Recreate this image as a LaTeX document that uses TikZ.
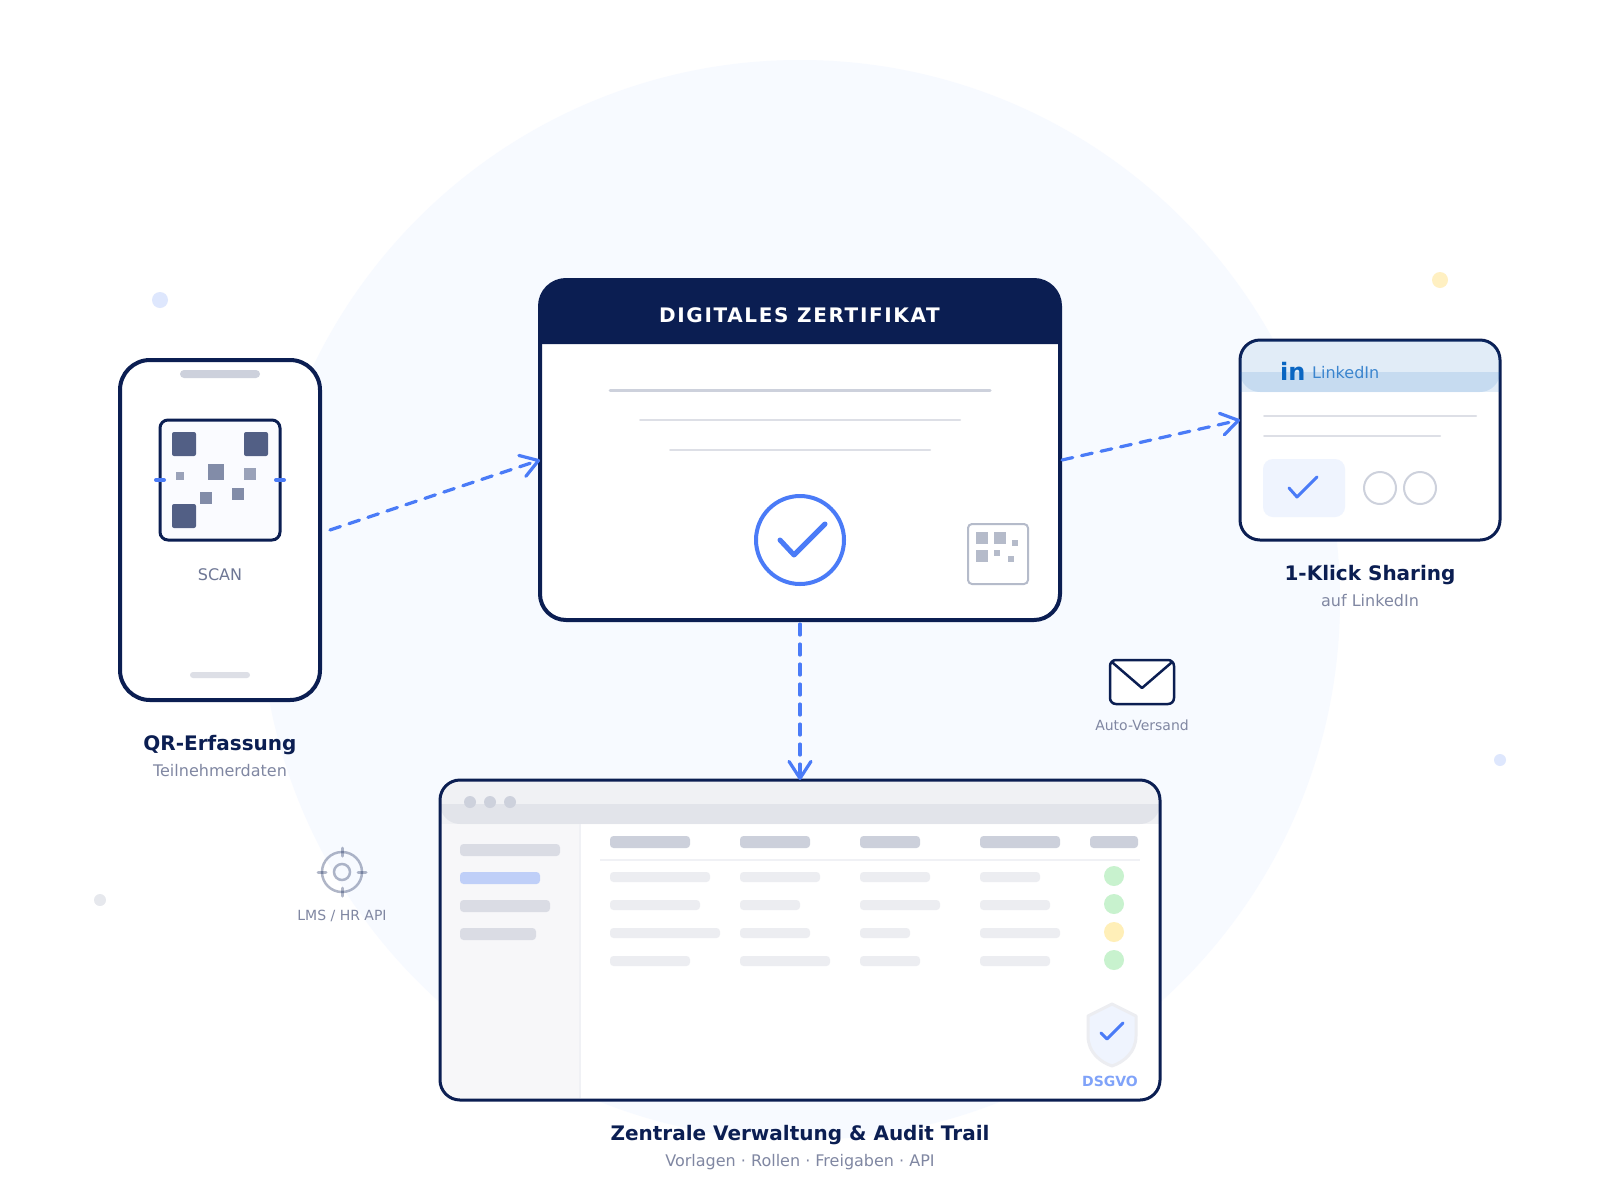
\documentclass[tikz,border=0pt]{standalone}
\usepackage{fontspec}
\setmainfont{DejaVu Sans}
\newfontfamily\spacedfont[LetterSpace=8.2]{DejaVu Sans}
\usetikzlibrary{arrows.meta,calc}
\definecolor{navy}{HTML}{0B1E52}
\definecolor{accent}{HTML}{4A7BF7}
\definecolor{liblue}{HTML}{0A66C2}
\definecolor{bgcircle}{HTML}{F7FAFF}
\definecolor{ruleA}{HTML}{CDD1DC}
\definecolor{ruleB}{HTML}{DDDFE6}
\definecolor{headbar}{HTML}{CCD0DB}
\definecolor{rowbar}{HTML}{ECEDF1}
\definecolor{sidebar}{HTML}{DADCE4}
\definecolor{sideline}{HTML}{F0F1F5}
\definecolor{qrpaper}{HTML}{FAFBFF}
\definecolor{mutetext}{HTML}{8087A2}
\definecolor{scantext}{HTML}{6E7795}
\definecolor{softblue}{HTML}{EFF4FE}
\definecolor{sunny}{HTML}{FFF0C2}
\definecolor{okdot}{HTML}{C8F2CE}
\definecolor{warndot}{HTML}{FFEFB8}
\newcommand{\fs}[1]{\fontsize{#1}{#1}\selectfont}
\tikzset{
  x=1pt,y=-1pt,
  box/.style={draw=navy,fill=white,rectangle,inner sep=0pt,outer sep=0pt},
  flow/.style={draw=accent,line width=3.2pt,line cap=round,dash pattern=on 11pt off 9pt,
    -{Straight Barb[length=17pt,width=22pt,line width=3.2pt,round]}},
  txt/.style={anchor=base,inner sep=0pt,outer sep=0pt},
  title/.style={txt,text=navy,font=\fs{20}\bfseries},
  subtitle/.style={txt,text=mutetext,font=\fs{16}},
  small/.style={txt,text=mutetext,font=\fs{14}},
  checkmark/.style={draw=accent,line cap=round,line join=round,fill=none},
  qrdark/.style={fill=navy,fill opacity=.7,rounded corners=2pt},
  qrmid/.style={fill=navy,fill opacity=.5},
  qrlight/.style={fill=navy,fill opacity=.4},
  miniqr/.style={fill=navy,fill opacity=.3},
  pill/.style={rounded corners=3.5pt},
  overlayli/.style={fill=liblue,fill opacity=.12},
  overlaywin/.style={fill=navy,fill opacity=.06},
  targetline/.style={draw=navy,draw opacity=.32,line cap=round},
}
\begin{document}
\begin{tikzpicture}
\useasboundingbox (0,0) rectangle (1600,1200);
\fill[white] (0,0) rectangle (1600,1200);
% background
\fill[bgcircle] (800,600) circle[radius=540];
\fill[fill=accent,fill opacity=.18] (160,300) circle[radius=8];
\fill[sunny] (1440,280) circle[radius=8];
\fill[fill=accent,fill opacity=.18] (1500,760) circle[radius=6];
\fill[fill=navy,fill opacity=.1] (100,900) circle[radius=6];

% phone
\node[box,line width=4pt,rounded corners=30pt,minimum width=200pt,minimum height=340pt] (phone) at (220,530) {};
\fill[ruleA,rounded corners=4pt] (180,370) rectangle (260,378);
\fill[ruleB,rounded corners=3pt] (190,672) rectangle (250,678);
\filldraw[draw=navy,fill=qrpaper,line width=3pt,rounded corners=8pt] (160,420) rectangle (280,540);
\fill[qrdark] (172,432) rectangle ++(24,24);
\fill[qrdark] (244,432) rectangle ++(24,24);
\fill[qrdark] (172,504) rectangle ++(24,24);
\fill[qrlight] (176,472) rectangle ++(8,8);
\fill[qrmid] (208,464) rectangle ++(16,16);
\fill[qrlight] (244,468) rectangle ++(12,12);
\fill[qrmid] (200,492) rectangle ++(12,12);
\fill[qrmid] (232,488) rectangle ++(12,12);
\draw[accent,line width=4pt,line cap=round] (156,480) -- (164,480);
\draw[accent,line width=4pt,line cap=round] (276,480) -- (284,480);
\node[txt,text=scantext,font=\fs{16}] (scan) at (220,580) {SCAN};
\node[title] (qrt) at (220,750) {QR-Erfassung};
\node[subtitle] (qrs) at (220,776) {Teilnehmerdaten};

% certificate
\node[box,line width=4pt,rounded corners=26pt,minimum width=520pt,minimum height=340pt] (cert) at (800,450) {};
\fill[navy] (540,344) [rounded corners=26pt] -- (540,280) -- (1060,280) [sharp corners] -- (1060,344) -- cycle;
\node[txt,text=white,font=\fs{20}\spacedfont\bfseries] (certt) at (799.5,322) {DIGITALES ZERTIFIKAT};
\draw[ruleA,line width=3pt,line cap=round] (610,390) -- (990,390);
\draw[ruleB,line width=2pt,line cap=round] (640,420) -- (960,420);
\draw[ruleB,line width=2pt,line cap=round] (670,450) -- (930,450);
\draw[accent,line width=4pt] (800,540) circle[radius=44];
\draw[checkmark,line width=5pt] (780,540) -- (794,555) -- (825,524);
\draw[navy,draw opacity=.3,line width=2pt,rounded corners=4pt] (968,524) rectangle (1028,584);
\fill[miniqr] (976,532) rectangle ++(12,12);
\fill[miniqr] (994,532) rectangle ++(12,12);
\fill[miniqr] (1012,540) rectangle ++(6,6);
\fill[miniqr] (976,550) rectangle ++(12,12);
\fill[miniqr] (994,550) rectangle ++(6,6);
\fill[miniqr] (1008,556) rectangle ++(6,6);

% linkedin card
\node[box,line width=3pt,rounded corners=20pt,minimum width=260pt,minimum height=200pt] (li) at (1370,440) {};
\fill[overlayli,rounded corners=20pt] (1240,340) rectangle (1500,392);
\fill[overlayli] (1240,372) rectangle (1500,392);
\node[anchor=base west,inner sep=0pt,text=liblue,font=\fs{24}\bfseries] (liin) at (1280,380) {in};
\node[anchor=base west,inner sep=0pt,text=liblue!80!white,font=\fs{16}] (lit) at (1312,378) {LinkedIn};
\draw[ruleB,line width=2pt,line cap=round] (1264,416) -- (1476,416);
\draw[ruleB,line width=2pt,line cap=round] (1264,436) -- (1440,436);
\fill[softblue,rounded corners=10pt] (1263,459) rectangle (1345,517);
\draw[checkmark,line width=3pt] (1289,488) -- (1297,497) -- (1317,477);
\draw[ruleA,line width=2pt] (1380,488) circle[radius=16];
\draw[ruleA,line width=2pt] (1420,488) circle[radius=16];
\node[title] (lit2) at (1370,580.4) {1-Klick Sharing};
\node[subtitle] (lis) at (1370,606) {auf LinkedIn};

% envelope
\filldraw[draw=navy,fill=white,line width=2.5pt,rounded corners=6pt] (1110,660) rectangle (1174,704);
\draw[navy,line width=2.5pt,line cap=round,line join=round] (1113,663) -- (1142,688) -- (1171,663);
\node[small] (mail) at (1142,730) {Auto-Versand};

% target
\draw[targetline,line width=2.5pt] (342,872) circle[radius=20];
\draw[targetline,line width=2.5pt] (342,872) circle[radius=8];
\draw[targetline,line width=3pt] (318,872) -- (326,872);
\draw[targetline,line width=3pt] (358,872) -- (366,872);
\draw[targetline,line width=3pt] (342,848) -- (342,856);
\draw[targetline,line width=3pt] (342,888) -- (342,896);
\node[small] (api) at (342,920) {LMS / HR API};

% window
\node[box,line width=3pt,rounded corners=20pt,minimum width=720pt,minimum height=320pt] (win) at (800,940) {};
\fill[overlaywin,rounded corners=20pt] (440,780) rectangle (1160,824);
\fill[overlaywin] (440,804) rectangle (1160,824);
\foreach \x in {470,490,510} \fill[ruleA] (\x,802) circle[radius=6];
\fill[navy,fill opacity=.03] (440,824) rectangle (580,1100);
\draw[sideline,line width=2pt] (580,824) -- (580,1098);
\fill[sidebar,pill] (460,844) rectangle ++(100,12);
\fill[accent,fill opacity=.32,pill] (460,872) rectangle ++(80,12);
\fill[sidebar,pill] (460,900) rectangle ++(90,12);
\fill[sidebar,pill] (460,928) rectangle ++(76,12);
\foreach \x/\w in {610/80,740/70,860/60,980/80,1090/48}
  \fill[headbar,pill] (\x,836) rectangle ++(\w,12);
\draw[sideline,line width=2pt] (600,860) -- (1140,860);
\foreach \y/\a/\b/\c/\d in {872/100/80/70/60,900/90/60/80/70,928/110/70/50/80,956/80/90/60/70}{
  \fill[rowbar,pill] (610,\y) rectangle ++(\a,10);
  \fill[rowbar,pill] (740,\y) rectangle ++(\b,10);
  \fill[rowbar,pill] (860,\y) rectangle ++(\c,10);
  \fill[rowbar,pill] (980,\y) rectangle ++(\d,10);
}
\fill[okdot] (1114,876) circle[radius=10];
\fill[okdot] (1114,904) circle[radius=10];
\fill[warndot] (1114,932) circle[radius=10];
\fill[okdot] (1114,960) circle[radius=10];
\filldraw[draw=rowbar,fill=softblue,line width=3pt,line join=round] (1112,1004) -- (1136,1016) -- (1136,1036) .. controls (1136,1052) and (1124,1062) .. (1112,1066) .. controls (1100,1062) and (1088,1052) .. (1088,1036) -- (1088,1016) -- cycle;
\draw[checkmark,line width=3pt] (1101,1033) -- (1107,1039) -- (1123,1023);
\node[txt,text=accent!70!white,font=\fs{14}\bfseries] (dsgvo) at (1110,1086) {DSGVO};
\node[title] (wint) at (800,1140) {Zentrale Verwaltung \& Audit Trail};
\node[subtitle] (wins) at (800,1166) {Vorlagen · Rollen · Freigaben · API};

% connectors
\draw[flow] ($(phone.east)+(10,0)$) -- ($(cert.west)+(0,10)$);
\draw[flow] ($(cert.east)+(2,10)$) -- ($(li.west)+(0,-20)$);
\draw[flow] ($(cert.south)+(0,4)$) -- (win.north);
\end{tikzpicture}
\end{document}
